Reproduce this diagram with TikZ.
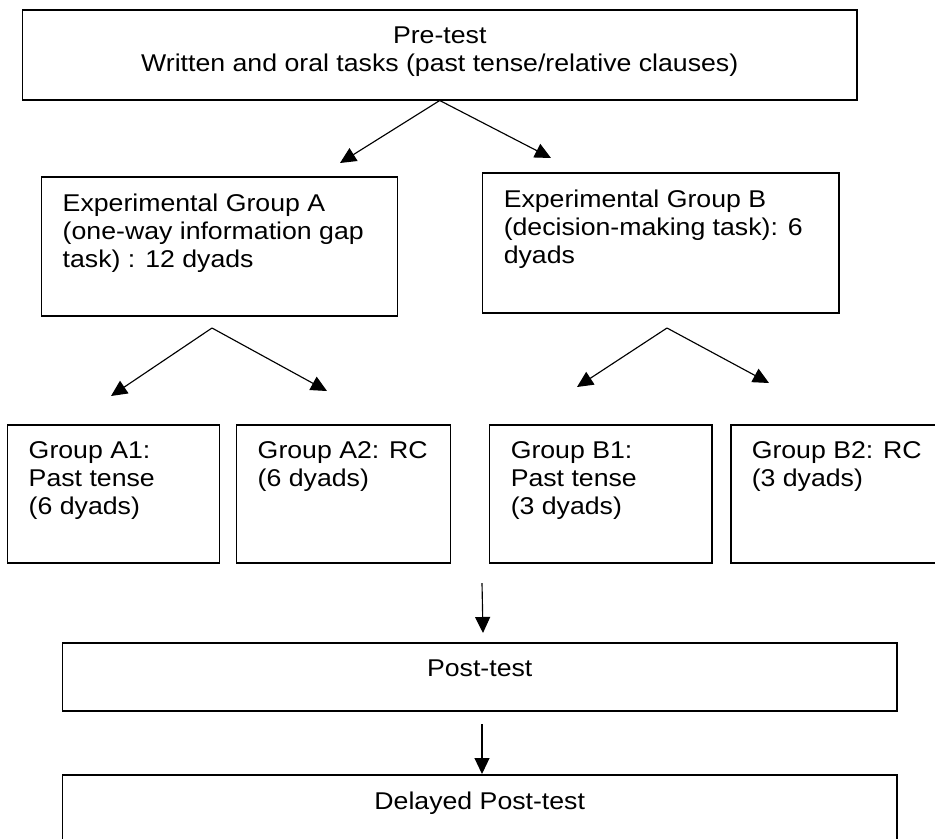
\documentclass[tikz,border=0pt]{standalone}
\usepackage{fontspec}
\setmainfont{Liberation Sans}[FakeStretch=1.10]
\usepackage{tikz}
\usetikzlibrary{arrows.meta}

% box text: height, width, lines (top aligned)
\newcommand{\stagetext}[3]{\parbox[c][#1][t]{#2}{\vspace*{0.34cm}#3}}

\begin{document}
\begin{tikzpicture}[font=\fontsize{13.8}{15.9}\selectfont,
  stage/.style={draw, line width=0.85pt, inner xsep=0.42cm, inner ysep=0pt, anchor=north west},
  flow/.style={-{Triangle[length=0.32cm,width=0.30cm]}, line width=0.65pt}]
  \useasboundingbox (0,0) rectangle (18.70,-16.76);

  \node[stage] (pre) at (0.44,-0.18)
    {\stagetext{1.80cm}{15.84cm}{\centering Pre-test\\Written and oral tasks (past tense/relative clauses)}};

  \node[stage] (grpA) at (0.82,-3.52)
    {\stagetext{2.78cm}{6.28cm}{\raggedright Experimental Group A\\(one-way information gap\\task) : 12 dyads}};
  \node[stage] (grpB) at (9.64,-3.44)
    {\stagetext{2.80cm}{6.28cm}{\raggedright Experimental Group B\\(decision-making task): 6\\dyads}};

  \foreach \nm/\x/\w/\txt in {%
    a1/0.14/4.24/{Group A1:\\Past tense\\(6 dyads)},%
    a2/4.72/4.28/{Group A2: RC\\(6 dyads)},%
    b1/9.78/4.44/{Group B1:\\Past tense\\(3 dyads)},%
    b2/14.60/4.30/{Group B2: RC\\(3 dyads)}%
  }{
    \node[stage] (\nm) at (\x,-8.48)
      {\stagetext{2.76cm}{\dimexpr\w cm-0.84cm\relax}{\raggedright \txt}};
  }

  \node[stage] (post) at (1.24,-12.84)
    {\stagetext{1.36cm}{15.84cm}{\centering Post-test}};
  \node[stage] (delayed) at (1.24,-15.48)
    {\stagetext{1.40cm}{15.84cm}{\centering Delayed Post-test}};

  % loose arrow ends
  \coordinate (toA) at (6.80,-3.26);
  \coordinate (toB) at (11.02,-3.16);
  \coordinate (splitA) at (4.24,-6.56);
  \coordinate (splitB) at (13.34,-6.56);
  \coordinate (toA1) at (2.22,-7.92);
  \coordinate (toA2) at (6.54,-7.82);
  \coordinate (toB1) at (11.54,-7.74);
  \coordinate (toB2) at (15.38,-7.66);
  \coordinate (fromGroups) at (9.64,-11.66);
  \coordinate (toPost) at (9.66,-12.66);
  \coordinate (fromPost) at (9.64,-14.48);

  \draw[flow] (pre.south) -- (toA);
  \draw[flow] (pre.south) -- (toB);
  \draw[flow] (splitA) -- (toA1);
  \draw[flow] (splitA) -- (toA2);
  \draw[flow] (splitB) -- (toB1);
  \draw[flow] (splitB) -- (toB2);
  \draw[flow] (fromGroups) -- (toPost);
  \draw[flow] (fromPost) -- (delayed.north -| fromPost);
\end{tikzpicture}
\end{document}
